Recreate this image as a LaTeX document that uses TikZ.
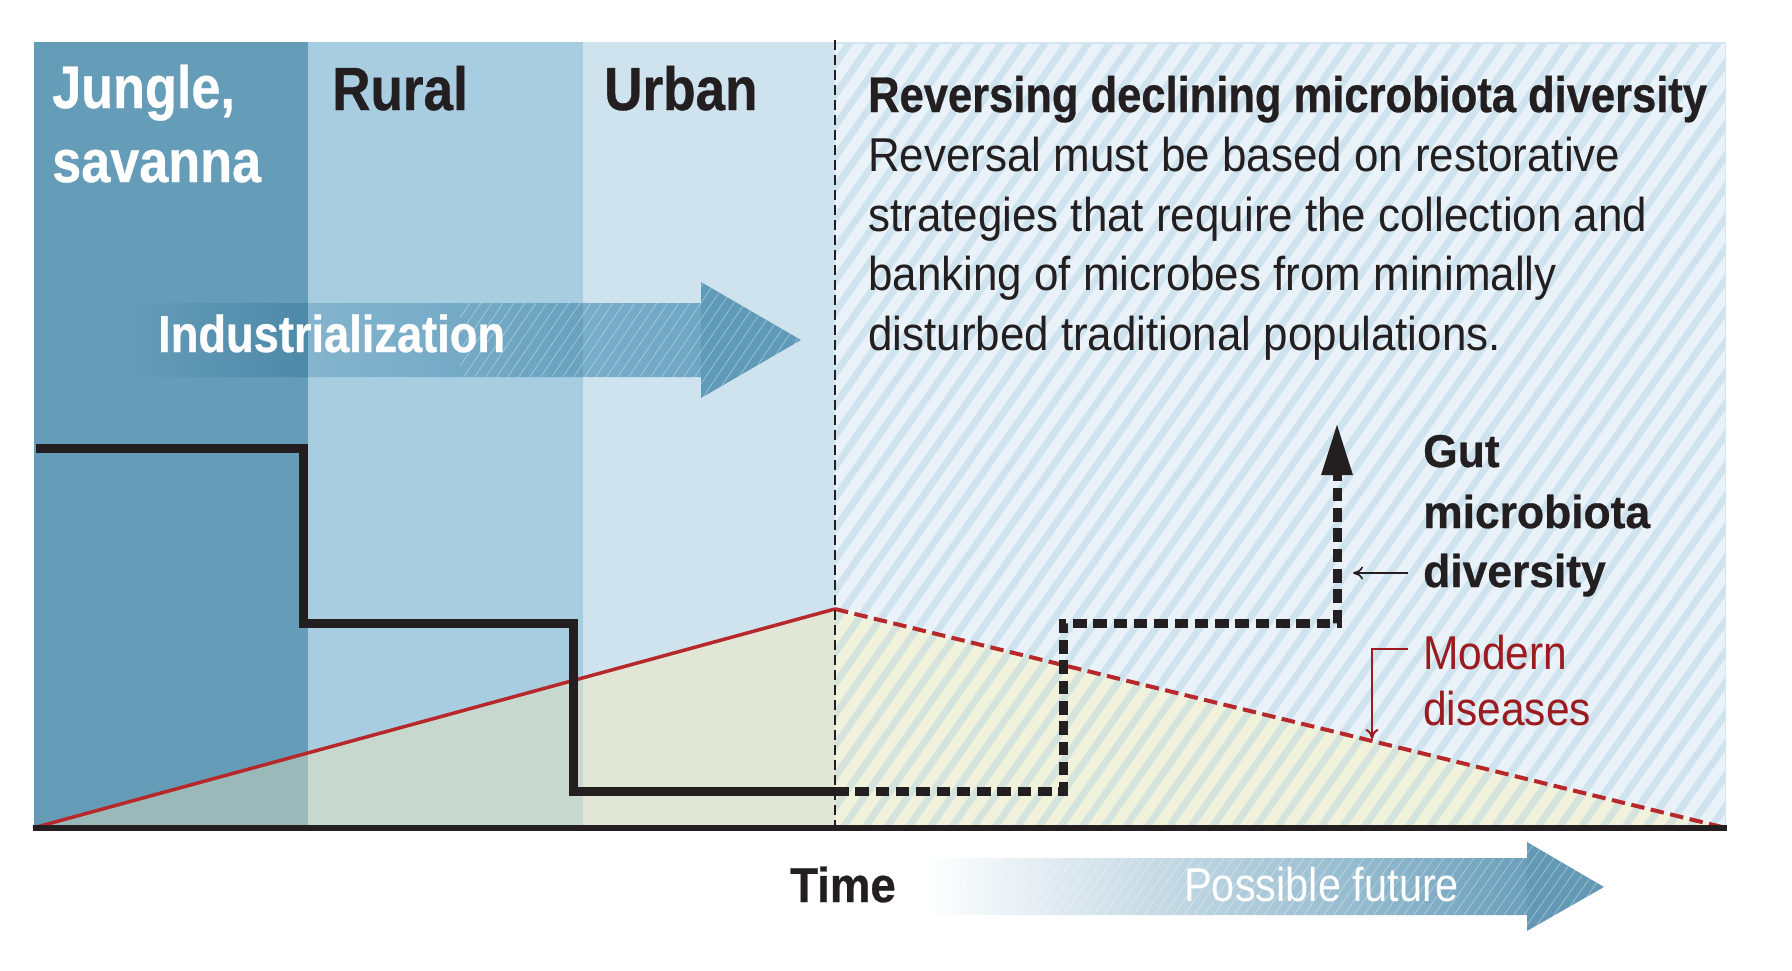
\documentclass[tikz,border=0pt]{standalone}
\usepackage{fontspec}
\setmainfont{Liberation Sans}
\newfontfamily\hdfont[FakeStretch=0.87, BoldFeatures={FakeBold=0.6}]{Liberation Sans}
\newfontfamily\ttlfont[FakeStretch=0.87, BoldFeatures={FakeBold=0.6}]{Liberation Sans}
\newfontfamily\tmfont[FakeStretch=0.93, BoldFeatures={FakeBold=0.6}]{Liberation Sans}
\newfontfamily\bdfont[FakeStretch=0.925]{Liberation Sans}
\newfontfamily\gtfont[FakeStretch=0.965, BoldFeatures={FakeBold=0.6}]{Liberation Sans}
\newfontfamily\mdfont[FakeStretch=0.895]{Liberation Sans}
\newfontfamily\pffont[FakeStretch=0.875]{Liberation Sans}
\usetikzlibrary{arrows.meta}
\definecolor{ink}{HTML}{231F20}
\definecolor{jungle}{HTML}{659CB8}
\definecolor{rural}{HTML}{A8CCE0}
\definecolor{urban}{HTML}{CFE3EE}
\definecolor{future}{HTML}{E8F2F8}
\definecolor{futedge}{HTML}{D3E5F0}
\definecolor{bgJ}{HTML}{9BB9B8}
\definecolor{bgR}{HTML}{C7D8CF}
\definecolor{bgU}{HTML}{E1E6D6}
\definecolor{bgF}{HTML}{F1F2DC}
\definecolor{redline}{HTML}{B7282A}
\definecolor{darkred}{HTML}{9B1B1E}
\definecolor{indJ}{HTML}{4D89A8}
\definecolor{indRa}{HTML}{84B4CE}
\definecolor{indRb}{HTML}{68A2BF}
\definecolor{indUa}{HTML}{79AECB}
\definecolor{indUb}{HTML}{6EA6C3}
\definecolor{indH}{HTML}{5F9BB9}
\definecolor{pfblue}{HTML}{6A9FBB}
\definecolor{pfhead}{HTML}{6499B5}
\begin{document}
\begin{tikzpicture}[x=1pt,y=-1pt,
  lbl/.style={inner sep=0pt, anchor=base west},
  hatchline/.style={line width=7pt, draw=rural, opacity=0.38},
  whitehatch/.style={line width=0.8pt, draw=white, opacity=0.35},
  stepline/.style={line width=9pt, draw=ink, line join=miter},
  dotline/.style={line width=9pt, draw=ink, dash pattern=on 13.5pt off 6.8pt},
  axisline/.style={line width=6.5pt, draw=ink},
  nowline/.style={line width=1.6pt, draw=ink, dash pattern=on 10pt off 5pt},
  pointer/.style={line width=1.6pt, -{To[length=10pt,width=13pt]}}
]
\useasboundingbox (0,0) rectangle (1792,970);

% columns
\fill[jungle] (34,42) rectangle (308,828);
\fill[rural] (308,42) rectangle (583,828);
\fill[urban] (583,42) rectangle (835,828);
\fill[future] (835,42) rectangle (1726,828);

% area under disease curve
\begin{scope}
\clip (34,828) -- (835,609) -- (1726,828) -- cycle;
\fill[bgJ] (34,42) rectangle (308,828);
\fill[bgR] (308,42) rectangle (583,828);
\fill[bgU] (583,42) rectangle (835,828);
\fill[bgF] (835,42) rectangle (1726,828);
\end{scope}

% hatching of the future region
\begin{scope}
\clip (835,42) rectangle (1726,828);
\foreach \i in {0,...,72} {
  \draw[hatchline] ({270+\i*21.7},840) -- ++(570,-814);
}
\end{scope}
\draw[futedge, line width=1.5pt] (835,42.75) -- (1725.25,42.75) -- (1725.25,828);

% Industrialization arrow
\begin{scope}
\clip (132,303) -- (701,303) -- (701,282) -- (801,340) -- (701,398) -- (701,377) -- (132,377) -- cycle;
\shade[left color=jungle, right color=indJ] (132,282) rectangle (308,398);
\shade[left color=indRa, right color=indRb] (308,282) rectangle (583,398);
\shade[left color=indUa, right color=indUb] (583,282) rectangle (701,398);
\fill[indH] (701,282) rectangle (802,398);
\clip (460,282) rectangle (802,398);
\foreach \i in {0,...,40} {
  \draw[whitehatch] ({360+\i*11},400) -- ++(85,-125);
}
\end{scope}

% named points
\coordinate (r0) at (33,828);
\coordinate (r1) at (835,609);
\coordinate (r2) at (1726,828);
\coordinate (v0) at (835,40);
\coordinate (v1) at (835,828);
\coordinate (s0) at (36,448);
\coordinate (s1) at (303,448);
\coordinate (s2) at (303,623);
\coordinate (s3) at (573,623);
\coordinate (s4) at (573,791);
\coordinate (s5) at (835,791);
\coordinate (f1) at (1063,791);
\coordinate (f2) at (1063,623);
\coordinate (f3) at (1337,623);
\coordinate (f4) at (1337,423);
\coordinate (ax0) at (33,828);
\coordinate (ax1) at (1727,828);

% disease curve
\draw[redline, line width=3.5pt] (r0) -- (r1);
\draw[redline, line width=4pt, dash pattern=on 13.5pt off 6.5pt] (r1) -- (r2);

% "now" divider
\draw[nowline] (v0) -- (v1);

% microbiota diversity
\draw[stepline] (s0) -- (s1) -- (s2) -- (s3) -- (s4) -- (s5);
\draw[dotline, -{Triangle[length=52pt,width=29pt]}] (s5) -- (f1) -- (f2) -- (f3) -- (f4);

% axis
\draw[axisline] (ax0) -- (ax1);

% column labels
\node[lbl, text=white, font={\hdfont\bfseries\fontsize{60}{72}\selectfont}] (jungle) at (52,108) {Jungle,};
\node[lbl, text=white, font={\hdfont\bfseries\fontsize{60}{72}\selectfont}] (savanna) at (52,182) {savanna};
\node[lbl, text=ink, font={\hdfont\bfseries\fontsize{61}{72}\selectfont}] (rurallbl) at (332,110) {Rural};
\node[lbl, text=ink, font={\hdfont\bfseries\fontsize{61}{72}\selectfont}] (urbanlbl) at (604,110) {Urban};
\node[lbl, text=white, font={\ttlfont\bfseries\fontsize{52}{62}\selectfont}] (indlbl) at (158,352) {Industrialization};

% title and body
\node[lbl, text=ink, font={\ttlfont\bfseries\fontsize{50}{60}\selectfont}] (title) at (868,112) {Reversing declining microbiota diversity};
\node[lbl, text=ink, font={\bdfont\fontsize{47.5}{60}\selectfont}] (body1) at (868,171) {Reversal must be based on restorative};
\node[lbl, text=ink, font={\bdfont\fontsize{47.5}{60}\selectfont}] (body2) at (868,231) {strategies that require the collection and};
\node[lbl, text=ink, font={\bdfont\fontsize{47.5}{60}\selectfont}] (body3) at (868,290) {banking of microbes from minimally};
\node[lbl, text=ink, font={\bdfont\fontsize{47.5}{60}\selectfont}] (body4) at (868,350) {disturbed traditional populations.};

% curve labels
\node[lbl, text=ink, font={\gtfont\bfseries\fontsize{46}{60}\selectfont}] (gut1) at (1423,467) {Gut};
\node[lbl, text=ink, font={\gtfont\bfseries\fontsize{46}{60}\selectfont}] (gut2) at (1423,528) {microbiota};
\node[lbl, text=ink, font={\gtfont\bfseries\fontsize{46}{60}\selectfont}] (gut3) at (1423,587) {diversity};
\node[lbl, text=darkred, font={\mdfont\fontsize{47.5}{56}\selectfont}] (mod1) at (1423,669) {Modern};
\node[lbl, text=darkred, font={\mdfont\fontsize{47.5}{56}\selectfont}] (mod2) at (1423,725) {diseases};

\coordinate (ga0) at (1408,573);
\coordinate (ga1) at (1353,573);
\draw[pointer, ink] (ga0) -- (ga1);
\coordinate (ma0) at (1408,649);
\coordinate (ma1) at (1372,649);
\coordinate (ma2) at (1372,739);
\draw[pointer, darkred, line width=2pt] (ma0) -- (ma1) -- (ma2);

% time axis label and future arrow
\node[lbl, text=ink, font={\tmfont\bfseries\fontsize{49}{60}\selectfont}] (time) at (790,902) {Time};
\begin{scope}
\clip (925,858) -- (1527,858) -- (1527,842) -- (1604,887) -- (1527,931) -- (1527,915) -- (925,915) -- cycle;
\shade[left color=white, right color=pfblue] (925,842) rectangle (1527,931);
\fill[pfhead] (1527,842) rectangle (1605,931);
\foreach \i in {0,...,70} {
  \draw[whitehatch] ({900+\i*10},935) -- ++(70,-100);
}
\end{scope}
\node[lbl, text=white, font={\pffont\fontsize{47.5}{60}\selectfont}] (future) at (1184,901) {Possible future};
\end{tikzpicture}
\end{document}
